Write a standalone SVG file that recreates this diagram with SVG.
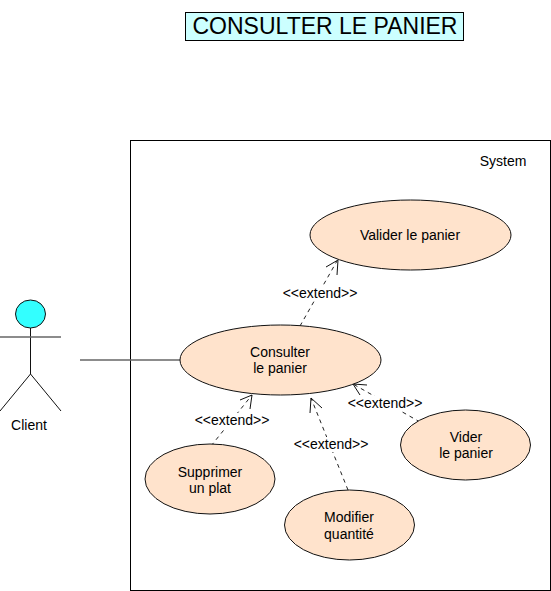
<svg xmlns="http://www.w3.org/2000/svg" width="551" height="591" viewBox="0 0 551 591">
<style>
text{font-family:"Liberation Sans",Arial,sans-serif;fill:#000;text-anchor:middle}
.t{font-size:14px}
.u{fill:#ffe3cc;stroke:#111;stroke-width:1}
.d{fill:none;stroke:#222;stroke-width:1;stroke-dasharray:4 4}
.a{fill:none;stroke:#111;stroke-width:1}
.s{fill:none;stroke:#111;stroke-width:1}
.g{fill:none;stroke:#666;stroke-width:1.3}
.l{fill:#fff}
</style>
<rect width="551" height="591" fill="#fff"/>
<g id="title"><rect x="185.500" y="12.500" width="278" height="28" fill="#ccffff" stroke="#000"/><text x="325" y="34" style="font-size:23px">CONSULTER LE PANIER</text></g>
<g id="system"><rect x="130.500" y="140.500" width="420" height="450" fill="#fff" stroke="#000"/><text class="t" x="503" y="166">System</text></g>
<g id="connectors">
<line class="g" x1="80" y1="360" x2="180" y2="360"/>
<path class="d" d="M300 326L337 261"/><path class="a" d="M326 267L338 260L337 275"/>
<path class="d" d="M211 446L252 395"/><path class="a" d="M240 400L252 395L250 409"/>
<path class="d" d="M348 490L311 398"/><path class="a" d="M310 413L311 398L322 408"/>
<path class="d" d="M420 422L353 384"/><path class="a" d="M360 395L353 384L367 385"/>
</g>
<g id="label-1"><rect class="l" x="282" y="286" width="75" height="14"/><text class="t" x="320" y="298">&lt;&lt;extend&gt;&gt;</text></g>
<g id="label-2"><rect class="l" x="194" y="413" width="75" height="15"/><text class="t" x="232" y="425">&lt;&lt;extend&gt;&gt;</text></g>
<g id="label-3"><rect class="l" x="293" y="437" width="75" height="15"/><text class="t" x="331" y="449">&lt;&lt;extend&gt;&gt;</text></g>
<g id="label-4"><rect class="l" x="347" y="396" width="75" height="15"/><text class="t" x="385" y="408">&lt;&lt;extend&gt;&gt;</text></g>
<g id="client">
<ellipse cx="30.500" cy="314" rx="15" ry="14" fill="#33ffff" stroke="#111"/>
<line class="s" x1="30.500" y1="328" x2="30.500" y2="374"/>
<line class="g" x1="0" y1="337" x2="61" y2="337"/>
<path class="s" d="M0 411L30.500 374L61 411"/>
<text class="t" x="29" y="430">Client</text>
</g>
<g id="consulter"><ellipse class="u" cx="280.500" cy="360" rx="100.500" ry="35"/><text class="t" x="280" y="357">Consulter</text><text class="t" x="280" y="373">le panier</text></g>
<g id="valider"><ellipse class="u" cx="410.500" cy="235" rx="100.500" ry="35"/><text class="t" x="410" y="240">Valider le panier</text></g>
<g id="supprimer"><ellipse class="u" cx="210" cy="479" rx="65" ry="35"/><text class="t" x="210" y="477">Supprimer</text><text class="t" x="210" y="493">un plat</text></g>
<g id="modifier"><ellipse class="u" cx="349.500" cy="525" rx="65" ry="35"/><text class="t" x="349" y="522">Modifier</text><text class="t" x="349" y="539">quantité</text></g>
<g id="vider"><ellipse class="u" cx="465.500" cy="445" rx="65" ry="35"/><text class="t" x="466" y="442">Vider</text><text class="t" x="466" y="458">le panier</text></g>
</svg>
